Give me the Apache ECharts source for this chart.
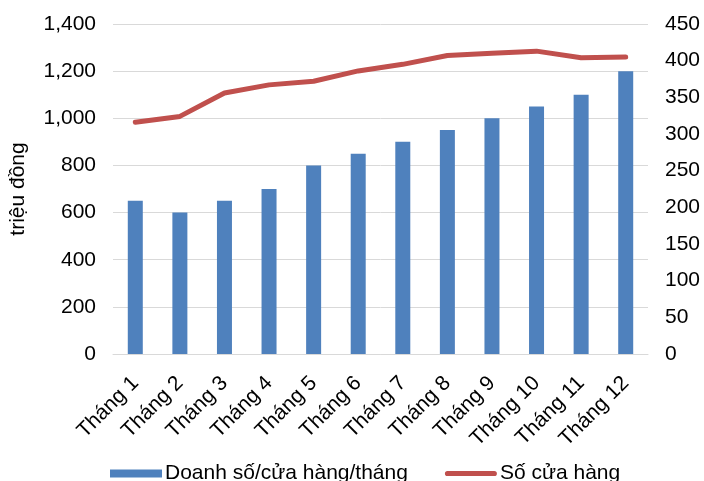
<!DOCTYPE html>
<html>
<head>
<meta charset="utf-8">
<script src="https://cdn.jsdelivr.net/npm/echarts@6/dist/echarts.min.js"></script>
<style>
html,body{margin:0;padding:0;background:#fff;}
#chart{width:704px;height:481px;}
</style>
</head>
<body>
<div id="chart"></div>
<script>
// Monthly figures
const months = ['Tháng 1','Tháng 2','Tháng 3','Tháng 4','Tháng 5','Tháng 6','Tháng 7','Tháng 8','Tháng 9','Tháng 10','Tháng 11','Tháng 12'];
const salesPerStore = [650, 600, 650, 700, 800, 850, 900, 950, 1000, 1050, 1100, 1200];
const storeCount = [316, 324, 356, 367, 372, 386, 395, 407, 410, 413, 404, 405];

const FONT = 'Liberation Sans, Arial, sans-serif';
const FS = 21;
const chart = echarts.init(document.getElementById('chart'));
chart.setOption({
  animation: false,
  textStyle: { fontFamily: FONT },
  grid: { left: 110, right: 56, top: 24, bottom: 127 },
  legend: {
    top: 458,
    left: 105,
    itemGap: 37,
    itemWidth: 52,
    itemHeight: 8,
    textStyle: { fontFamily: FONT, fontSize: FS, color: '#000', padding: [0, 0, 0, -2] },
    data: [
      { name: 'Doanh số/cửa hàng/tháng', icon: 'rect' },
      { name: 'Số cửa hàng', icon: 'path://M3,0 H57 A3,3 0 0 1 57,6 H3 A3,3 0 0 1 3,0 Z', itemStyle: { color: '#C0504D' } }
    ]
  },
  xAxis: {
    type: 'category',
    data: months,
    axisLine: { lineStyle: { color: '#D9D9D9', width: 1 } },
    axisTick: { show: false },
    axisLabel: { rotate: 45, fontSize: FS, color: '#000', fontFamily: FONT, margin: 26, interval: 0 }
  },
  yAxis: [
    {
      type: 'value', min: 0, max: 1400, interval: 200,
      name: 'triệu đồng', nameLocation: 'middle', nameGap: 84, nameRotate: 90,
      nameTextStyle: { fontSize: FS, color: '#000', fontFamily: FONT },
      axisLabel: {
        fontSize: FS, color: '#000', fontFamily: FONT, margin: 17,
        formatter: v => v.toLocaleString('en-US')
      },
      splitLine: { lineStyle: { color: '#D9D9D9', width: 1 } },
      axisLine: { show: false }, axisTick: { show: false }
    },
    {
      type: 'value', min: 0, max: 450, interval: 50,
      axisLabel: { fontSize: FS, color: '#000', fontFamily: FONT, margin: 17 },
      splitLine: { show: false },
      axisLine: { show: false },
      axisTick: { show: false }
    }
  ],
  series: [
    {
      name: 'Doanh số/cửa hàng/tháng',
      type: 'bar',
      data: salesPerStore,
      barWidth: 15,
      itemStyle: { color: '#4F81BD' }
    },
    {
      name: 'Số cửa hàng',
      type: 'line',
      yAxisIndex: 1,
      data: storeCount,
      symbol: 'none',
      lineStyle: { color: '#C0504D', width: 5, cap: 'round', join: 'round' },
      itemStyle: { color: '#C0504D' }
    }
  ]
});
</script>
</body>
</html>
